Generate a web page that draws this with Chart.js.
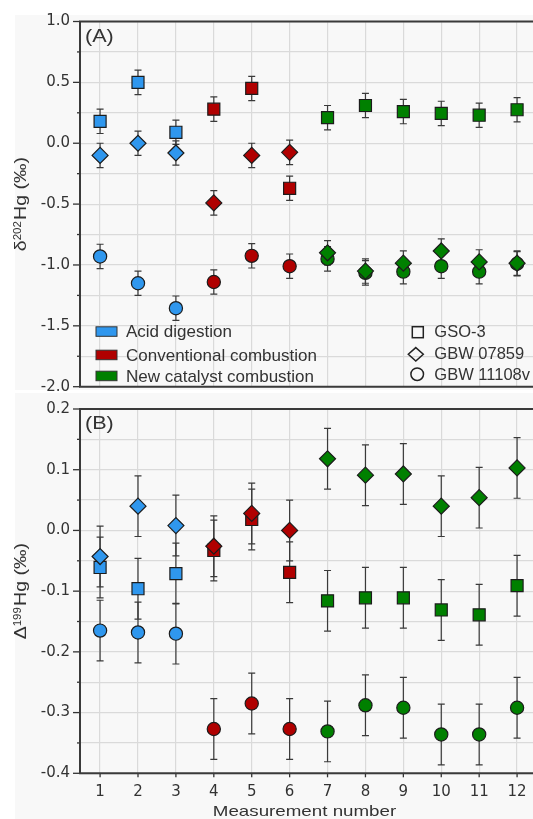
<!DOCTYPE html>
<html><head><meta charset="utf-8">
<script src="https://cdn.jsdelivr.net/npm/chart.js@4/dist/chart.umd.min.js"></script>
<style>
html,body{margin:0;padding:0;background:#fff;overflow:hidden;width:533px;height:819px;position:relative;}
#cB{position:absolute;left:0;top:390px;z-index:1;}
#cA{position:absolute;left:0;top:0;z-index:2;}
</style></head><body>
<canvas id="cA" width="533" height="400" style="width:533px;height:400px"></canvas>
<canvas id="cB" width="533" height="429" style="width:533px;height:429px"></canvas>
<script>
// ---------- data ----------
const measurementNumbers = [1,2,3,4,5,6,7,8,9,10,11,12];
const methodNames = ['Acid digestion','Conventional combustion','New catalyst combustion'];
const methodOfMeasurement = [0,0,0,1,1,1,2,2,2,2,2,2];
const sampleNames = ['GSO-3','GBW 07859','GBW 11108v'];

// Panel A: δ202Hg (‰)
const d202_GSO3      = [0.18, 0.50, 0.09, 0.28, 0.45, -0.37, 0.21, 0.31, 0.26, 0.245, 0.23, 0.275];
const d202_GBW07859  = [-0.10, 0.00, -0.08, -0.49, -0.10, -0.075, -0.90, -1.05, -0.985, -0.885, -0.975, -0.985];
const d202_GBW11108v = [-0.93, -1.15, -1.355, -1.14, -0.925, -1.01, -0.95, -1.065, -1.055, -1.01, -1.055, -0.99];
const d202_GSO3_err      = [0.10,0.10,0.10,0.10,0.10,0.10,0.10,0.10,0.10,0.10,0.10,0.10];
const d202_GBW07859_err  = [0.10,0.10,0.10,0.10,0.10,0.10,0.10,0.10,0.10,0.10,0.10,0.10];
const d202_GBW11108v_err = [0.10,0.10,0.10,0.10,0.10,0.10,0.10,0.10,0.10,0.10,0.10,0.10];

// Panel B: Δ199Hg (‰)
const D199_GSO3      = [-0.061, -0.096, -0.071, -0.033, 0.018, -0.069, -0.116, -0.111, -0.111, -0.131, -0.139, -0.091];
const D199_GBW07859  = [-0.043, 0.040, 0.008, -0.026, 0.028, 0.000, 0.118, 0.091, 0.093, 0.040, 0.054, 0.103];
const D199_GBW11108v = [-0.165, -0.168, -0.170, -0.327, -0.285, -0.327, -0.331, -0.288, -0.292, -0.336, -0.336, -0.292];
const D199_GSO3_err      = [0.05,0.05,0.05,0.05,0.05,0.05,0.05,0.05,0.05,0.05,0.05,0.05];
const D199_GBW07859_err  = [0.05,0.05,0.05,0.05,0.05,0.05,0.05,0.05,0.05,0.05,0.05,0.05];
const D199_GBW11108v_err = [0.05,0.05,0.05,0.05,0.05,0.05,0.05,0.05,0.05,0.05,0.05,0.05];

// axis ranges / tick steps
const xRange = [0.47, 12.42];
const yRangeA = [-2.0, 1.0], yMajorA = 0.5, yMinorA = 0.25;
const yRangeB = [-0.4, 0.2], yMajorB = 0.1, yMinorB = 0.05;
const panelLabels = ['(A)', '(B)'];
const yTitleA = [{text:'δ'},{text:'202', sup:true},{text:'Hg (‰)'}];
const yTitleB = [{text:'Δ'},{text:'199', sup:true},{text:'Hg (‰)'}];
const xTitle = 'Measurement number';

// ---------- styles ----------
const methodColors = ['#2f97ee', '#b00000', '#008000'];
const FONT = '"Liberation Sans", Arial, sans-serif';
const TICKFONT = 'DejaVu Sans';
const TEXT = '#333333';
const GRID = '#dadada';
const BG = '#f8f8f8';
const shapeStyles = [
  {ps:'rect', r:8.5, order:1},
  {ps:'rectRot', r:8, order:0},
  {ps:'circle', r:6.6, order:2}
];

function makeDatasets(series, errs) {
  return series.map((vals, s) => ({
    label: sampleNames[s],
    data: measurementNumbers.map((m, i) => ({x: m, y: vals[i]})),
    errors: errs[s],
    pointStyle: shapeStyles[s].ps,
    pointRadius: shapeStyles[s].r,
    pointHoverRadius: shapeStyles[s].r,
    pointBackgroundColor: methodOfMeasurement.map(k => methodColors[k]),
    pointBorderColor: '#1c1c1c',
    pointBorderWidth: 1.2,
    showLine: false,
    order: shapeStyles[s].order
  }));
}

function isMultiple(v, step) { const q = v / step; return Math.abs(q - Math.round(q)) < 1e-6; }

function stretchedText(ctx, text, x, y, font, sx, align, baseline) {
  ctx.save();
  ctx.translate(x, y);
  ctx.scale(sx, 1);
  ctx.font = font; ctx.fillStyle = TEXT;
  ctx.textAlign = align || 'left'; ctx.textBaseline = baseline || 'alphabetic';
  ctx.fillText(text, 0, 0);
  ctx.restore();
}

function drawYTitle(ctx, parts, cx, cy, sx) {
  ctx.save();
  ctx.translate(cx, cy);
  ctx.rotate(-Math.PI / 2);
  ctx.scale(sx, 1);
  ctx.fillStyle = TEXT; ctx.textAlign = 'left'; ctx.textBaseline = 'alphabetic';
  let total = 0;
  parts.forEach(p => { ctx.font = (p.sup ? '10px ' : '17px ') + FONT; p.w = ctx.measureText(p.text).width + (p.sup ? 1 : 0); total += p.w; });
  let x = -total / 2;
  parts.forEach(p => { ctx.font = (p.sup ? '10px ' : '17px ') + FONT; ctx.fillText(p.text, x, p.sup ? 1 : 6); x += p.w; });
  ctx.restore();
}

const errorBarPlugin = {
  id: 'errorBars',
  beforeDatasetsDraw(chart) {
    const {ctx, scales: {x, y}} = chart;
    ctx.save();
    ctx.strokeStyle = '#3a3a3a'; ctx.lineWidth = 1.2;
    chart.data.datasets.forEach(ds => {
      ds.data.forEach((p, i) => {
        const e = ds.errors[i];
        const px = x.getPixelForValue(p.x);
        const t = y.getPixelForValue(p.y + e), b = y.getPixelForValue(p.y - e);
        ctx.beginPath();
        ctx.moveTo(px, t); ctx.lineTo(px, b);
        ctx.moveTo(px - 3.5, t); ctx.lineTo(px + 3.5, t);
        ctx.moveTo(px - 3.5, b); ctx.lineTo(px + 3.5, b);
        ctx.stroke();
      });
    });
    ctx.restore();
  }
};

function framePlugin(opts) {
  return {
    id: 'frame' + opts.key,
    beforeDraw(chart) {
      const ctx = chart.ctx;
      ctx.save();
      ctx.fillStyle = '#ffffff';
      ctx.fillRect(0, 0, chart.width, opts.bgBottom);
      ctx.fillStyle = BG;
      ctx.fillRect(15, opts.bgTop, chart.width - 15, opts.bgBottom - opts.bgTop);
      ctx.restore();
    },
    afterDraw(chart) {
      const {ctx, chartArea: a, scales: {y, x}} = chart;
      ctx.save();
      ctx.strokeStyle = '#333'; ctx.lineWidth = 1.3;
      y.ticks.forEach(t => {
        const py = y.getPixelForValue(t.value);
        const len = isMultiple(t.value, opts.major) ? 7 : 3;
        ctx.beginPath(); ctx.moveTo(a.left - len, py); ctx.lineTo(a.left, py); ctx.stroke();
      });
      if (opts.xTicks) {
        x.ticks.forEach(t => {
          const px = x.getPixelForValue(t.value);
          ctx.beginPath(); ctx.moveTo(px, a.bottom); ctx.lineTo(px, a.bottom + 4); ctx.stroke();
        });
      }
      ctx.strokeStyle = '#3a3a3a'; ctx.lineWidth = 2;
      ctx.beginPath();
      ctx.moveTo(chart.width, a.top); ctx.lineTo(a.left, a.top); ctx.lineTo(a.left, a.bottom); ctx.lineTo(chart.width, a.bottom);
      ctx.stroke();
      stretchedText(ctx, opts.label, a.left + 5, a.top + 20, '18px ' + FONT, 1.2, 'left', 'alphabetic');
      drawYTitle(ctx, opts.yTitle, 20, (a.top + a.bottom) / 2, 1.15);
      if (opts.xTitle) {
        stretchedText(ctx, opts.xTitle, 304.5, 426, '15px ' + FONT, 1.25, 'center', 'alphabetic');
      }
      if (opts.legend) opts.legend(ctx, a);
      ctx.restore();
    }
  };
}

function drawLegendA(ctx, a) {
  const rowsBase = [337.3, 360.7, 381.7];
  methodNames.forEach((name, i) => {
    ctx.fillStyle = methodColors[i];
    ctx.strokeStyle = '#333'; ctx.lineWidth = 1;
    ctx.fillRect(96, rowsBase[i] - 10.5, 21, 9.5);
    ctx.strokeRect(96, rowsBase[i] - 10.5, 21, 9.5);
    ctx.fillStyle = TEXT; ctx.font = '17px ' + FONT; ctx.textAlign = 'left'; ctx.textBaseline = 'alphabetic';
    ctx.fillText(name, 126, rowsBase[i]);
  });
  const sBase = [337.3, 359.3, 380];
  ctx.strokeStyle = '#222'; ctx.lineWidth = 1.5;
  ctx.strokeRect(412.3, 326.7, 11, 11);
  ctx.beginPath();
  ctx.moveTo(415.8, 347.6); ctx.lineTo(423.3, 354.3); ctx.lineTo(415.8, 361); ctx.lineTo(408.3, 354.3); ctx.closePath(); ctx.stroke();
  ctx.beginPath(); ctx.arc(417.2, 374.2, 6.3, 0, Math.PI * 2); ctx.stroke();
  sampleNames.forEach((name, i) => {
    ctx.fillStyle = TEXT; ctx.font = '16.5px ' + FONT; ctx.textAlign = 'left'; ctx.textBaseline = 'alphabetic';
    ctx.fillText(name, 434.3, sBase[i]);
  });
}

function zeroPad(s) { s.paddingLeft = 0; s.paddingRight = 0; s.paddingTop = 0; s.paddingBottom = 0; }

function makeOptions(yRange, major, minor, top, xHeight, showXTicks) {
  return {
    responsive: false,
    animation: false,
    events: [],
    layout: {autoPadding: false, padding: {top: top, right: 0, left: 0, bottom: 0}},
    plugins: {legend: {display: false}, tooltip: {enabled: false}},
    scales: {
      x: {
        type: 'linear', min: xRange[0], max: xRange[1],
        afterBuildTicks: s => { s.ticks = measurementNumbers.map(v => ({value: v})); },
        afterFit: s => { s.height = xHeight; zeroPad(s); },
        grid: {color: GRID, lineWidth: 1.2, drawTicks: false},
        border: {display: false},
        ticks: {display: showXTicks, color: TEXT, font: {family: TICKFONT, size: 15}, padding: 10, maxRotation: 0, autoSkip: false}
      },
      y: {
        type: 'linear', min: yRange[0], max: yRange[1],
        afterFit: s => { s.width = 80; zeroPad(s); },
        grid: {color: GRID, lineWidth: 1.2, drawTicks: false},
        border: {display: false},
        ticks: {
          stepSize: minor, autoSkip: false, color: TEXT, padding: 10,
          font: {family: TICKFONT, size: 15},
          callback: v => isMultiple(v, major) ? Number(v).toFixed(1) : ''
        }
      }
    }
  };
}

new Chart(document.getElementById('cA'), {
  type: 'scatter',
  data: {datasets: makeDatasets([d202_GSO3, d202_GBW07859, d202_GBW11108v], [d202_GSO3_err, d202_GBW07859_err, d202_GBW11108v_err])},
  options: makeOptions(yRangeA, yMajorA, yMinorA, 21.5, 13.3, false),
  plugins: [errorBarPlugin, framePlugin({key: 'A', bgTop: 15, bgBottom: 390, major: yMajorA, label: panelLabels[0], yTitle: yTitleA, legend: drawLegendA})]
});

new Chart(document.getElementById('cB'), {
  type: 'scatter',
  data: {datasets: makeDatasets([D199_GSO3, D199_GBW07859, D199_GBW11108v], [D199_GSO3_err, D199_GBW07859_err, D199_GBW11108v_err])},
  options: makeOptions(yRangeB, yMajorB, yMinorB, 19, 45.7, true),
  plugins: [errorBarPlugin, framePlugin({key: 'B', bgTop: 3, bgBottom: 429, major: yMajorB, label: panelLabels[1], yTitle: yTitleB, xTitle: xTitle, xTicks: true})]
});
</script>
</body></html>
